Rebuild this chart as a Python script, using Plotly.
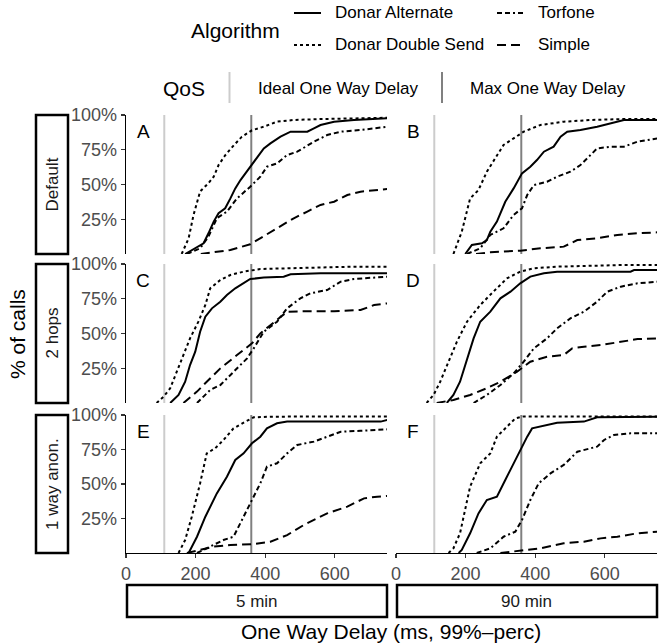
import plotly.graph_objects as go

# ---------------- data ----------------
ROWS = ["Default", "2 hops", "1 way anon."]
COLS = ["5 min", "90 min"]
LETTERS = ["A", "B", "C", "D", "E", "F"]
ALGORITHMS = ["Donar Alternate", "Donar Double Send", "Torfone", "Simple"]
QOS_LABELS = ["Ideal One Way Delay", "Max One Way Delay"]
QOS_VALUES = [110, 360]
X_TICKS = [0, 200, 400, 600]
Y_TICKS = [0.25, 0.5, 0.75, 1.0]
Y_TICK_TEXT = ["25%", "50%", "75%", "100%"]

# Panel A: Default / 5 min
a_alt_x = [170, 204, 223, 237, 252, 266, 285, 300, 314, 329, 343, 362, 377, 396, 415, 444, 473, 521, 540, 559, 598, 655, 751]
a_alt_y = [0.0, 0.053, 0.077, 0.149, 0.233, 0.293, 0.329, 0.40, 0.472, 0.532, 0.58, 0.64, 0.688, 0.76, 0.796, 0.844, 0.88, 0.88, 0.904, 0.928, 0.952, 0.964, 0.976]
a_dbl_x = [160, 180, 194, 213, 237, 252, 266, 285, 309, 333, 362, 396, 434, 482, 559, 655, 751]
a_dbl_y = [0.0, 0.113, 0.28, 0.45, 0.51, 0.556, 0.64, 0.71, 0.78, 0.844, 0.89, 0.916, 0.952, 0.964, 0.971, 0.976, 0.98]
a_tor_x = [175, 213, 237, 261, 290, 319, 357, 386, 405, 434, 463, 492, 540, 578, 617, 674, 751]
a_tor_y = [0.0, 0.041, 0.125, 0.257, 0.305, 0.40, 0.484, 0.556, 0.628, 0.652, 0.712, 0.736, 0.808, 0.856, 0.88, 0.892, 0.916]
a_sim_x = [215, 252, 300, 357, 386, 434, 482, 521, 559, 598, 636, 674, 713, 751]
a_sim_y = [0.0, 0.012, 0.029, 0.07, 0.113, 0.185, 0.257, 0.305, 0.353, 0.376, 0.424, 0.448, 0.46, 0.468]

# Panel B: Default / 90 min
b_alt_x = [199, 218, 247, 261, 271, 290, 314, 338, 362, 386, 405, 425, 453, 473, 492, 530, 578, 617, 655, 751]
b_alt_y = [0.0, 0.065, 0.077, 0.10, 0.16, 0.233, 0.376, 0.472, 0.58, 0.628, 0.676, 0.736, 0.772, 0.844, 0.88, 0.892, 0.916, 0.94, 0.964, 0.964]
b_dbl_x = [165, 189, 213, 237, 261, 285, 309, 338, 367, 415, 482, 559, 655, 751]
b_dbl_y = [0.0, 0.16, 0.40, 0.46, 0.592, 0.688, 0.784, 0.832, 0.88, 0.928, 0.952, 0.964, 0.971, 0.971]
b_tor_x = [204, 242, 271, 309, 338, 362, 377, 396, 434, 463, 501, 530, 559, 578, 617, 655, 694, 751]
b_tor_y = [0.0, 0.041, 0.137, 0.185, 0.281, 0.329, 0.424, 0.496, 0.52, 0.556, 0.592, 0.64, 0.712, 0.76, 0.772, 0.772, 0.808, 0.832]
b_sim_x = [230, 271, 357, 415, 482, 521, 578, 636, 694, 751]
b_sim_y = [0.0, 0.012, 0.024, 0.041, 0.053, 0.10, 0.113, 0.137, 0.149, 0.156]

# Panel C: 2 hops / 5 min
c_alt_x = [127, 151, 170, 184, 199, 213, 228, 247, 271, 290, 314, 338, 357, 396, 453, 473, 559, 655, 751]
c_alt_y = [0.0, 0.058, 0.153, 0.273, 0.369, 0.513, 0.621, 0.681, 0.729, 0.777, 0.825, 0.861, 0.892, 0.902, 0.909, 0.926, 0.933, 0.933, 0.933]
c_dbl_x = [88, 108, 127, 146, 165, 184, 208, 228, 242, 271, 300, 338, 386, 463, 559, 655, 751]
c_dbl_y = [0.0, 0.046, 0.106, 0.225, 0.345, 0.465, 0.585, 0.705, 0.825, 0.885, 0.921, 0.945, 0.964, 0.969, 0.974, 0.981, 0.981]
c_tor_x = [204, 242, 271, 309, 348, 367, 396, 434, 463, 501, 530, 578, 617, 655, 713, 751]
c_tor_y = [0.0, 0.094, 0.129, 0.225, 0.321, 0.393, 0.513, 0.585, 0.681, 0.753, 0.789, 0.813, 0.873, 0.892, 0.902, 0.909]
c_sim_x = [165, 204, 232, 271, 319, 362, 386, 415, 444, 463, 521, 598, 674, 713, 751]
c_sim_y = [0.0, 0.082, 0.153, 0.249, 0.345, 0.429, 0.501, 0.561, 0.621, 0.657, 0.66, 0.66, 0.669, 0.705, 0.717]

# Panel D: 2 hops / 90 min
d_alt_x = [146, 165, 184, 204, 223, 242, 271, 300, 329, 357, 386, 425, 463, 559, 674, 684, 751]
d_alt_y = [0.0, 0.058, 0.153, 0.321, 0.465, 0.585, 0.657, 0.753, 0.801, 0.861, 0.909, 0.933, 0.945, 0.945, 0.945, 0.957, 0.957]
d_dbl_x = [88, 108, 127, 151, 175, 204, 242, 280, 319, 357, 396, 463, 559, 655, 751]
d_dbl_y = [0.0, 0.058, 0.153, 0.297, 0.441, 0.585, 0.705, 0.801, 0.897, 0.945, 0.969, 0.981, 0.988, 0.993, 0.993]
d_tor_x = [223, 261, 300, 338, 367, 396, 434, 463, 501, 540, 578, 607, 646, 694, 751]
d_tor_y = [0.0, 0.058, 0.129, 0.213, 0.297, 0.393, 0.465, 0.537, 0.609, 0.657, 0.729, 0.801, 0.837, 0.861, 0.873]
d_sim_x = [117, 165, 213, 261, 300, 348, 386, 434, 482, 506, 540, 588, 636, 694, 751]
d_sim_y = [0.0, 0.022, 0.058, 0.106, 0.153, 0.225, 0.297, 0.333, 0.345, 0.393, 0.405, 0.417, 0.436, 0.46, 0.465]

# Panel E: 1 way anon. / 5 min
e_alt_x = [180, 204, 228, 261, 290, 314, 338, 362, 386, 405, 434, 463, 559, 732, 751]
e_alt_y = [0.0, 0.118, 0.263, 0.432, 0.553, 0.674, 0.722, 0.795, 0.843, 0.903, 0.94, 0.952, 0.952, 0.952, 0.964]
e_dbl_x = [151, 170, 189, 213, 232, 256, 280, 309, 343, 367, 415, 511, 607, 751]
e_dbl_y = [0.0, 0.094, 0.263, 0.505, 0.722, 0.758, 0.819, 0.903, 0.952, 0.983, 0.988, 0.99, 0.99, 0.99]
e_tor_x = [204, 242, 280, 309, 338, 362, 386, 405, 434, 463, 492, 540, 578, 617, 674, 751]
e_tor_y = [0.0, 0.046, 0.094, 0.118, 0.263, 0.384, 0.505, 0.626, 0.65, 0.722, 0.783, 0.807, 0.843, 0.879, 0.886, 0.896]
e_sim_x = [175, 252, 300, 367, 415, 463, 511, 549, 578, 636, 684, 722, 751]
e_sim_y = [0.0, 0.046, 0.058, 0.065, 0.082, 0.13, 0.203, 0.251, 0.287, 0.336, 0.396, 0.408, 0.413]

# Panel F: 1 way anon. / 90 min
f_alt_x = [180, 189, 213, 237, 261, 290, 314, 333, 348, 362, 377, 391, 434, 463, 540, 578, 751]
f_alt_y = [0.0, 0.022, 0.143, 0.287, 0.384, 0.408, 0.529, 0.626, 0.698, 0.771, 0.843, 0.903, 0.928, 0.944, 0.952, 0.983, 0.988]
f_dbl_x = [151, 165, 184, 213, 242, 271, 290, 319, 343, 367, 463, 559, 751]
f_dbl_y = [0.0, 0.034, 0.143, 0.481, 0.65, 0.722, 0.843, 0.915, 0.976, 0.99, 0.99, 0.99, 0.99]
f_tor_x = [232, 271, 309, 343, 362, 386, 410, 444, 482, 521, 578, 598, 626, 674, 751]
f_tor_y = [0.0, 0.034, 0.118, 0.155, 0.239, 0.384, 0.505, 0.577, 0.638, 0.734, 0.771, 0.819, 0.855, 0.867, 0.867]
f_sim_x = [300, 367, 415, 482, 540, 588, 636, 694, 751]
f_sim_y = [0.0, 0.022, 0.034, 0.07, 0.082, 0.106, 0.118, 0.143, 0.155]

PANELS = [
    [(a_alt_x, a_alt_y), (a_dbl_x, a_dbl_y), (a_tor_x, a_tor_y), (a_sim_x, a_sim_y)],
    [(b_alt_x, b_alt_y), (b_dbl_x, b_dbl_y), (b_tor_x, b_tor_y), (b_sim_x, b_sim_y)],
    [(c_alt_x, c_alt_y), (c_dbl_x, c_dbl_y), (c_tor_x, c_tor_y), (c_sim_x, c_sim_y)],
    [(d_alt_x, d_alt_y), (d_dbl_x, d_dbl_y), (d_tor_x, d_tor_y), (d_sim_x, d_sim_y)],
    [(e_alt_x, e_alt_y), (e_dbl_x, e_dbl_y), (e_tor_x, e_tor_y), (e_sim_x, e_sim_y)],
    [(f_alt_x, f_alt_y), (f_dbl_x, f_dbl_y), (f_tor_x, f_tor_y), (f_sim_x, f_sim_y)],
]

# ---------------- styling / layout ----------------
W, H = 668, 643
FONT = "Liberation Sans, Arial, Helvetica, sans-serif"
DASH = {
    "Donar Alternate": "solid",
    "Donar Double Send": "3px,3px",
    "Torfone": "5px,3px,5px,3px,2px,3px",
    "Simple": "9px,5px",
}
QOS_COLORS = ["#CCCCCC", "#808080"]
COL_PX = [(126, 387), (396, 657)]
ROW_PX = [(115, 254), (264, 403), (415, 553)]


def fx(p):
    return p / W


def fy(p):
    return 1 - p / H


def text_ann(x, y, text, size, xanchor="center", angle=0, color="black"):
    return dict(xref="paper", yref="paper", x=fx(x), y=fy(y), text=text,
                xanchor=xanchor, yanchor="middle", textangle=angle, showarrow=False,
                font=dict(size=size, color=color, family=FONT))


fig = go.Figure()
layout = dict(
    template="none",
    width=W, height=H,
    margin=dict(l=0, r=0, t=0, b=0, pad=0, autoexpand=False),
    paper_bgcolor="white", plot_bgcolor="white",
    showlegend=False,
    font=dict(family=FONT, color="black"),
)
shapes = []
annotations = []

for r in range(3):
    for c in range(2):
        k = r * 2 + c
        s = "" if k == 0 else str(k + 1)
        x0, x1 = COL_PX[c]
        y0, y1 = ROW_PX[r]
        layout["xaxis" + s] = dict(
            domain=[fx(x0), fx(x1)], anchor="y" + s, range=[0, 750],
            showgrid=False, zeroline=False, automargin=False,
            showline=(r == 2), linecolor="black", linewidth=1.3,
            ticks="outside" if r == 2 else "", ticklen=4, tickwidth=1.2, tickcolor="#333333",
            tickvals=X_TICKS, showticklabels=(r == 2),
            tickfont=dict(size=18, color="#4D4D4D", family=FONT),
            fixedrange=True,
        )
        layout["yaxis" + s] = dict(
            domain=[fy(y1), fy(y0)], anchor="x" + s, range=[0, 1],
            showgrid=False, zeroline=False, automargin=False,
            showline=(c == 0), linecolor="black", linewidth=1.3,
            ticks="outside" if c == 0 else "", ticklen=4, tickwidth=1.2, tickcolor="#333333",
            tickvals=Y_TICKS, ticktext=Y_TICK_TEXT, showticklabels=(c == 0),
            tickfont=dict(size=18, color="#4D4D4D", family=FONT),
            fixedrange=True,
        )
        # QoS reference lines
        for v, col in zip(QOS_VALUES, QOS_COLORS):
            shapes.append(dict(type="line", xref="x" + s, yref="y" + s + " domain",
                               x0=v, x1=v, y0=0, y1=1, layer="below",
                               line=dict(color=col, width=2)))
        # curves
        for alg, (xs, ys) in zip(ALGORITHMS, PANELS[k]):
            fig.add_trace(go.Scatter(
                x=xs, y=ys, mode="lines", name=alg, xaxis="x" + s, yaxis="y" + s,
                line=dict(color="black", width=2, dash=DASH[alg]),
                hoverinfo="skip", showlegend=False,
            ))
        # panel letter
        annotations.append(dict(xref="x" + s, yref="y" + s, x=49, y=0.88, text=LETTERS[k],
                                xanchor="center", yanchor="middle", showarrow=False,
                                font=dict(size=19, color="black", family=FONT)))

# row strips (left)
for r, lab in enumerate(ROWS):
    y0, y1 = ROW_PX[r]
    shapes.append(dict(type="rect", xref="paper", yref="paper",
                       x0=fx(36), x1=fx(68), y0=fy(y1), y1=fy(y0),
                       line=dict(color="black", width=2.5), fillcolor="white"))
    annotations.append(text_ann(52, (y0 + y1) / 2, lab, 17, angle=-90, color="#1A1A1A"))

# column strips (bottom)
for c, lab in enumerate(COLS):
    x0, x1 = COL_PX[c]
    shapes.append(dict(type="rect", xref="paper", yref="paper",
                       x0=fx(x0 + 1), x1=fx(x1), y0=fy(617), y1=fy(585),
                       line=dict(color="black", width=2.5), fillcolor="white"))
    annotations.append(text_ann((x0 + x1) / 2, 601, lab, 17, color="#1A1A1A"))

# axis titles
annotations.append(text_ann(391, 631, "One Way Delay (ms, 99%\u2013perc)", 21))
annotations.append(text_ann(17, 334, "% of calls", 21, angle=-90))

# Algorithm legend (2 x 2 grid)
annotations.append(text_ann(189, 30, "Algorithm", 21, xanchor="left"))
LEG_POS = {
    "Donar Alternate": (294, 13),
    "Donar Double Send": (294, 45),
    "Torfone": (497, 13),
    "Simple": (497, 45),
}
for alg in ALGORITHMS:
    lx, ly = LEG_POS[alg]
    shapes.append(dict(type="line", xref="paper", yref="paper",
                       x0=fx(lx), x1=fx(lx + 27), y0=fy(ly), y1=fy(ly),
                       line=dict(color="black", width=2, dash=DASH[alg])))
    annotations.append(text_ann(lx + 39, ly, alg, 17, xanchor="left"))

# QoS legend
annotations.append(text_ann(161, 88, "QoS", 21, xanchor="left"))
QOS_LEG_X = [229.5, 442]
for lab, col, lx in zip(QOS_LABELS, QOS_COLORS, QOS_LEG_X):
    shapes.append(dict(type="line", xref="paper", yref="paper",
                       x0=fx(lx), x1=fx(lx), y0=fy(103), y1=fy(72),
                       line=dict(color=col, width=2)))
    annotations.append(text_ann(lx + 26, 88, lab, 17, xanchor="left"))

layout["shapes"] = shapes
layout["annotations"] = annotations
fig.update_layout(**layout)

fig.write_html("out.html", config={"displayModeBar": False, "staticPlot": True},
               post_script="document.body.style.margin='0';document.body.style.overflow='hidden';")
